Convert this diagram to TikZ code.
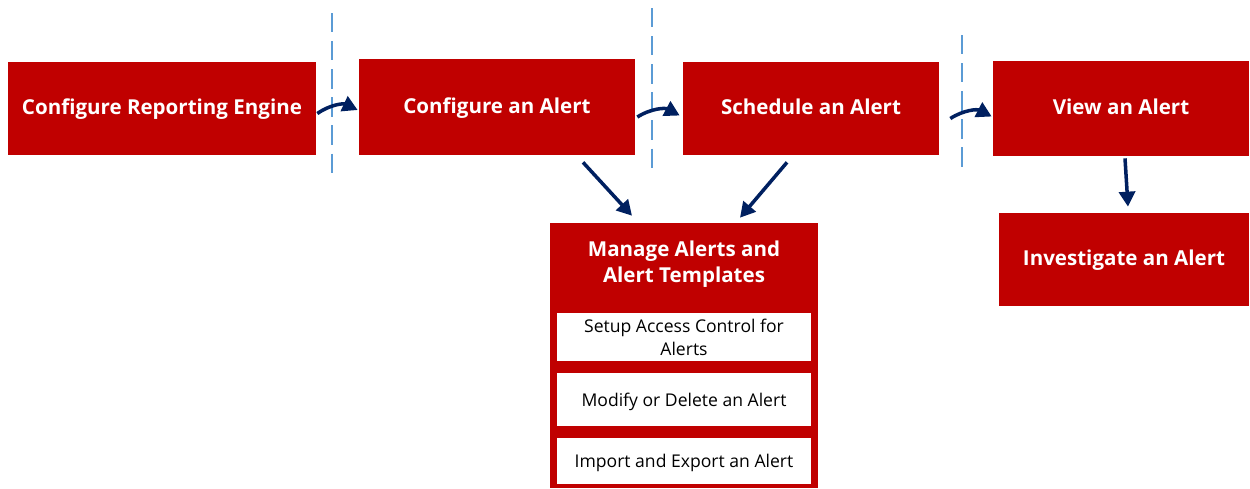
\documentclass[tikz,border=0pt]{standalone}
\usepackage{fontspec}
\setmainfont{Open Sans}
\usetikzlibrary{arrows.meta,calc}
\definecolor{alertred}{HTML}{C00000}
\definecolor{flownavy}{HTML}{002060}
\definecolor{sepblue}{HTML}{5B9BD5}

\begin{document}
\begin{tikzpicture}[
    x=0.02cm, y=-0.02cm,
    stepbox/.style={
      rectangle, fill=alertred, draw=none,
      minimum height=1.86cm,
      text=white, font=\fontsize{11.7}{14}\selectfont\bfseries,
      text height=1.8ex, text depth=0.5ex,
      inner sep=2pt,
    },
    itembox/.style={
      rectangle, fill=white, draw=none,
      minimum width=5.08cm,
      text=black, font=\fontsize{10}{13}\selectfont,
      align=center, inner sep=1pt,
    },
    flow/.style={draw=flownavy, line width=2pt,
      -{Triangle[length=0.3cm,width=0.32cm]}},
    sepline/.style={draw=sepblue, line width=0.7pt, dash pattern=on 11pt off 5pt},
  ]
  \useasboundingbox (0,0) rectangle (1250,488);

  % --- Main steps ---
  \node[stepbox, minimum width=6.16cm] (eng) at (162, 108.5) {Configure Reporting Engine};
  \node[stepbox, minimum width=5.52cm, minimum height=1.92cm] (cfg) at (497, 107) {Configure an Alert};
  \node[stepbox, minimum width=5.12cm] (sch) at (811, 108.5) {Schedule an Alert};
  \node[stepbox, minimum width=5.12cm, minimum height=1.9cm] (view) at (1121, 108.5) {View an Alert};
  \node[stepbox, minimum width=5cm] (inv) at (1124, 259.5) {Investigate an Alert};

  % --- Phase separators ---
  \draw[sepline] (332, 13) -- (332, 180);
  \draw[sepline] (652, 8) -- (652, 176);
  \draw[sepline] (962, 35) -- (962, 173);

  % ================================================================
  %  MANAGE ALERTS block
  % ================================================================
  \node[stepbox, minimum width=5.36cm, minimum height=5.3cm] (mng) at (684, 355.5) {};
  \node[text=white, font=\fontsize{11.7}{14.6}\selectfont\bfseries, align=center]
    (mngtitle) at (684, 264) {Manage Alerts and\\Alert Templates};
  \node[itembox, minimum height=0.96cm] (acc) at (684, 337) {Setup Access Control for\\Alerts};
  \node[itembox, minimum height=1.06cm, text height=1.7ex, text depth=0.3ex] (mod) at (684, 399.5) {Modify or Delete an Alert};
  \node[itembox, minimum height=0.92cm, text height=1.7ex, text depth=0.3ex] (imp) at (684, 461) {Import and Export an Alert};

  % ================================================================
  %  FLOW ARROWS
  % ================================================================
  \draw[flow] ($(eng.east)+(1,5)$) to[bend left=30] ($(cfg.west)+(-1,3)$);
  \draw[flow] ($(cfg.east)+(2,10)$) to[bend left=30] ($(sch.west)+(-3,7)$);
  \draw[flow] ($(sch.east)+(11,10)$) to[bend left=30] ($(view.west)+(-1,8)$);

  \draw[flow] ($(cfg.south)+(86,7)$) -- ($(mng.north)+(-52,-7)$);
  \draw[flow] ($(sch.south)+(-24,7)$) -- ($(mng.north)+(56,-5)$);
  \draw[flow] ($(view.south)+(4,2)$) -- ($(inv.north)+(4,-6)$);

\end{tikzpicture}
\end{document}
